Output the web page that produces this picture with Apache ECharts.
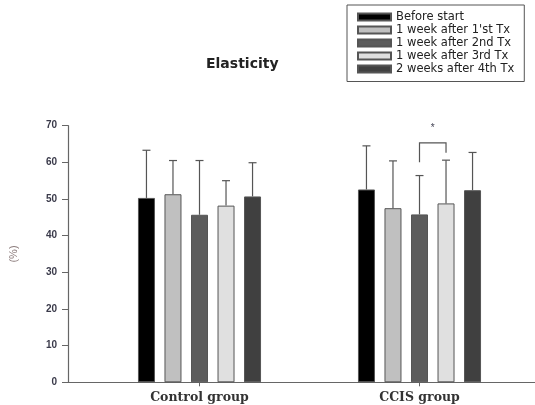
<!DOCTYPE html>
<html>
<head>
<meta charset="utf-8">
<script src="https://cdn.jsdelivr.net/npm/echarts@6/dist/echarts.min.js"></script>
<style>html,body{margin:0;padding:0;background:#fff}#c{width:535px;height:405px}</style>
</head>
<body>
<div id="c"></div>
<script>
// ---- data ----
const categories = ['Control group', 'CCIS group'];
const seriesNames = ['Before start', "1 week after 1'st Tx", '1 week after 2nd Tx', '1 week after 3rd Tx', '2 weeks after 4th Tx'];
const meanBefore = [50.3, 52.6];
const meanWeek1 = [51.3, 47.5];
const meanWeek2 = [45.7, 45.8];
const meanWeek3 = [48.2, 48.8];
const meanWeek4 = [50.7, 52.4];
const sdBefore = [13.0, 11.9];
const sdWeek1 = [9.2, 12.9];
const sdWeek2 = [14.8, 10.6];
const sdWeek3 = [6.8, 11.8];
const sdWeek4 = [9.2, 10.3];
const yTicks = [0, 10, 20, 30, 40, 50, 60, 70];
// significance bracket: category index, from series, to series, top value, left leg end, right leg end
const bracketCategory = 1;
const bracketSeries = [2, 3];
const bracketLevels = [65.3, 60.0, 62.6];
const bracketStarValue = 69.3;
const bracketLabel = '*';

// ---- styles ----
const colors = ['#000000', '#c0c0c0', '#5c5c5c', '#e0e0e0', '#404040'];
const barWidth = 17;
const barGapRatio = 0.56;
const step = barWidth * (1 + barGapRatio);
const means = [meanBefore, meanWeek1, meanWeek2, meanWeek3, meanWeek4];
const sds = [sdBefore, sdWeek1, sdWeek2, sdWeek3, sdWeek4];
const nS = seriesNames.length;

const series = [];
seriesNames.forEach((name, i) => {
  series.push({
    name: name, type: 'bar', xAxisIndex: 1, yAxisIndex: 1,
    barWidth: barWidth, barGap: (barGapRatio * 100) + '%',
    itemStyle: { color: colors[i], borderColor: '#555', borderWidth: 1 },
    data: means[i]
  });
});
seriesNames.forEach((name, i) => {
  series.push({
    type: 'custom', xAxisIndex: 1, yAxisIndex: 1, z: 5, silent: true,
    data: categories.map((c, j) => [j, means[i][j], means[i][j] + sds[i][j]]),
    renderItem: function (params, api) {
      const off = (i - (nS - 1) / 2) * step;
      const b = api.coord([api.value(0), api.value(1)]);
      const t = api.coord([api.value(0), api.value(2)]);
      const x = b[0] + off;
      return { type: 'group', children: [
        { type: 'line', shape: { x1: x, y1: b[1], x2: x, y2: t[1] }, style: { stroke: '#555', lineWidth: 1.2 } },
        { type: 'line', shape: { x1: x - 4, y1: t[1], x2: x + 4, y2: t[1] }, style: { stroke: '#555', lineWidth: 1.2 } }
      ]};
    }
  });
});
series.push({
  type: 'custom', xAxisIndex: 1, yAxisIndex: 1, z: 5, silent: true,
  data: [[bracketCategory, bracketLevels[0], bracketLevels[1], bracketLevels[2], bracketStarValue]],
  renderItem: function (params, api) {
    const offA = (bracketSeries[0] - (nS - 1) / 2) * step;
    const offB = (bracketSeries[1] - (nS - 1) / 2) * step;
    const top = api.coord([api.value(0), api.value(1)]);
    const l = api.coord([api.value(0), api.value(2)]);
    const r = api.coord([api.value(0), api.value(3)]);
    const s = api.coord([api.value(0), api.value(4)]);
    const xa = top[0] + offA, xb = top[0] + offB;
    return { type: 'group', children: [
      { type: 'polyline', shape: { points: [[xa, l[1]], [xa, top[1]], [xb, top[1]], [xb, r[1]]] }, style: { stroke: '#555', lineWidth: 1.2, fill: null } },
      { type: 'text', style: { x: (xa + xb) / 2, y: s[1], text: bracketLabel, fill: '#445', font: '10px "Liberation Sans"', align: 'center', verticalAlign: 'middle' } }
    ]};
  }
});

const chart = echarts.init(document.getElementById('c'), null, { renderer: 'canvas' });
chart.setOption({
  animation: false,
  backgroundColor: '#fff',
  title: {
    text: 'Elasticity', left: 201, top: 52,
    textStyle: { fontFamily: 'DejaVu Sans', fontSize: 14, fontWeight: 'bold', color: '#222' }
  },
  legend: {
    data: seriesNames, orient: 'vertical', left: 347, top: 5, icon: 'rect',
    padding: [5.5, 10, 6, 10], itemGap: 0, itemWidth: 33, itemHeight: 7,
    borderColor: '#555', borderWidth: 1,
    textStyle: { fontFamily: 'DejaVu Sans', fontSize: 11.5, lineHeight: 13, color: '#222' },
    selectedMode: false
  },
  grid: [
    { left: 67, right: 0, top: 125.7, bottom: 22.7 },
    { left: 89.5, right: 5.5, top: 125.7, bottom: 22.7 }
  ],
  xAxis: [
    { type: 'category', gridIndex: 0, data: categories, axisLine: { lineStyle: { color: '#666', width: 1.2 } }, axisTick: { show: false }, axisLabel: { show: false } },
    { type: 'category', gridIndex: 1, data: categories,
      axisLine: { show: false },
      axisTick: { show: true, alignWithLabel: true, length: 4, lineStyle: { color: '#666' } },
      axisLabel: { margin: 9, fontFamily: 'DejaVu Serif', fontSize: 12.5, fontWeight: 'bold', color: '#333' } }
  ],
  yAxis: [
    { type: 'value', gridIndex: 0, min: 0, max: 70, interval: 10,
      name: '(%)', nameLocation: 'middle', nameGap: 49,
      nameTextStyle: { fontFamily: 'Liberation Sans', fontSize: 11, color: '#8a7a7a' },
      axisLine: { show: true, lineStyle: { color: '#666', width: 1.2 } },
      axisTick: { show: true, length: 6, lineStyle: { color: '#666' } },
      splitLine: { show: false },
      axisLabel: { margin: 11, fontFamily: 'Liberation Sans', fontSize: 10, fontWeight: 'bold', color: '#3a3a4a',
        formatter: v => yTicks.indexOf(v) >= 0 ? String(v) : '' } },
    { type: 'value', gridIndex: 1, min: 0, max: 70, interval: 10, show: false, splitLine: { show: false } }
  ],
  series: series
});
</script>
</body>
</html>
